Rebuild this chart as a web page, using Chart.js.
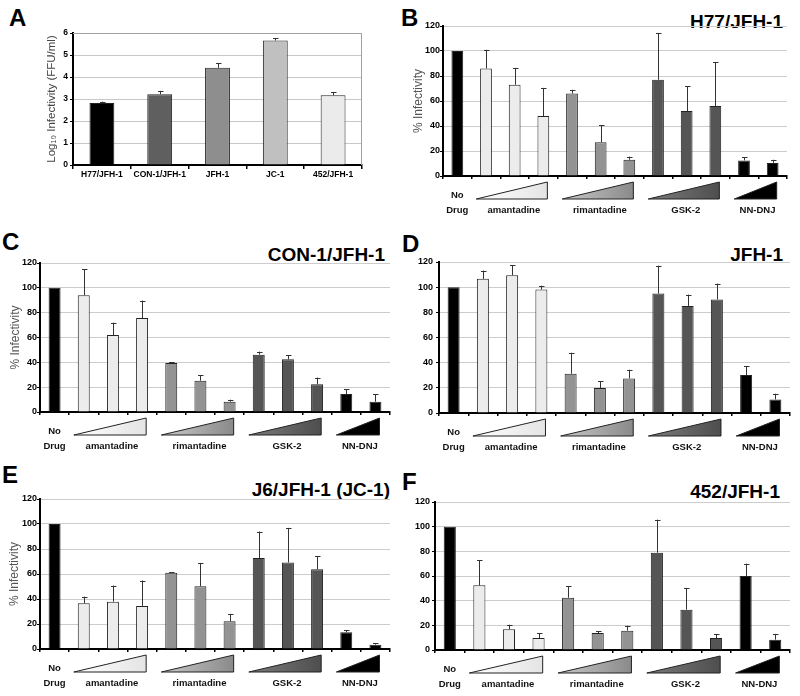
<!DOCTYPE html>
<html>
<head>
<meta charset="utf-8">
<script src="https://cdn.jsdelivr.net/npm/chart.js@4.4.1/dist/chart.umd.min.js"></script>
<style>
  body { margin: 0; background: #fff; width: 800px; height: 696px; position: relative; overflow: hidden;
         font-family: 'Liberation Sans', Arial, sans-serif; }
  .panel { position: absolute; }
  .letter { position: absolute; font-weight: bold; font-size: 24px; line-height: 1; }
  .strain { position: absolute; font-weight: bold; font-size: 19px; line-height: 1; text-align: right; width: 200px; }
</style>
</head>
<body>
<div class="letter" style="left:9px;top:6px">A</div>
<div class="letter" style="left:401px;top:6px">B</div>
<div class="letter" style="left:2px;top:230px">C</div>
<div class="letter" style="left:402px;top:232px">D</div>
<div class="letter" style="left:2px;top:463px">E</div>
<div class="letter" style="left:402px;top:470px">F</div>

<div class="strain" style="left:583px;top:12px">H77/JFH-1</div>
<div class="strain" style="left:185px;top:245px">CON-1/JFH-1</div>
<div class="strain" style="left:583px;top:245px">JFH-1</div>
<div class="strain" style="left:190px;top:480px">J6/JFH-1 (JC-1)</div>
<div class="strain" style="left:580px;top:482px">452/JFH-1</div>

<div class="panel" id="pA"><canvas id="cA"></canvas></div>
<div class="panel" id="pB"><canvas id="cB"></canvas></div>
<div class="panel" id="pC"><canvas id="cC"></canvas></div>
<div class="panel" id="pD"><canvas id="cD"></canvas></div>
<div class="panel" id="pE"><canvas id="cE"></canvas></div>
<div class="panel" id="pF"><canvas id="cF"></canvas></div>

<script>
// panel A: virus titres
const strainLabels = ['H77/JFH-1', 'CON-1/JFH-1', 'JFH-1', 'JC-1', '452/JFH-1'];
const strainLogTitre = [2.82, 3.22, 4.42, 5.66, 3.17];
const strainLogErr = [0.06, 0.15, 0.22, 0.1, 0.13];
const strainColors = ['#000000', '#5f5f5f', '#8e8e8e', '#c0c0c0', '#ebebeb'];
const logTicks = [0, 1, 2, 3, 4, 5, 6];

// panels B-F: drug treatments, 12 bars each
const doseLabels = ['No Drug',
  'amantadine low', 'amantadine mid', 'amantadine high',
  'rimantadine low', 'rimantadine mid', 'rimantadine high',
  'GSK-2 low', 'GSK-2 mid', 'GSK-2 high',
  'NN-DNJ low', 'NN-DNJ high'];
const doseGroup = [0, 1, 1, 1, 2, 2, 2, 3, 3, 3, 4, 4];
const drugNames = ['amantadine', 'rimantadine', 'GSK-2', 'NN-DNJ'];
const groupColors = ['#000000', '#ececec', '#939393', '#555555', '#000000'];
const percentTicks = [0, 20, 40, 60, 80, 100, 120];

const h77Values = [100, 86, 73, 48, 66, 27, 13, 77, 52, 56, 12.5, 10.5];
const h77Err    = [0, 15, 13.5, 22.5, 3, 13.5, 2.5, 37.5, 20, 35, 2.5, 2.5];
const con1Values = [100, 94, 62, 75.7, 39.5, 25.2, 8.3, 46.2, 42.4, 22.3, 14.5, 8.3];
const con1Err    = [0, 21, 10, 14, 0.5, 4.6, 1.6, 2.4, 3.2, 5.4, 3.8, 6.2];
const jfh1Values = [100, 106.6, 109.5, 98.1, 31.2, 19.8, 27.5, 94.9, 85.1, 90.2, 30.1, 10.8];
const jfh1Err    = [0, 6.6, 7.9, 3.1, 16.7, 5.3, 6.9, 22.2, 9, 12.7, 6.9, 4.5];
const jc1Values = [100, 36.6, 37.9, 34.5, 61, 50.2, 22.2, 72.8, 69.2, 63.9, 13.5, 3.5];
const jc1Err    = [0, 5.3, 12.9, 20.3, 0.3, 18.7, 5.9, 21.2, 27.7, 10.4, 1.6, 1.3];
const s452Values = [100, 52.4, 16.8, 9.7, 42.4, 13.8, 15.7, 78.9, 32.7, 9.7, 60, 8.4];
const s452Err    = [0, 20.6, 3.7, 4.1, 9.5, 1.3, 4, 26.8, 17.6, 3, 10, 4.6];

const fam = "'Liberation Sans', Arial, sans-serif";
Chart.defaults.font.family = fam;
Chart.defaults.color = '#000';

// error bars, read from dataset.errors
const errorBars = {
  id: 'errorBars',
  afterDatasetsDraw(chart) {
    const ds = chart.data.datasets[0];
    const meta = chart.getDatasetMeta(0);
    const y = chart.scales.y;
    const ctx = chart.ctx;
    ctx.save();
    ctx.strokeStyle = '#333';
    ctx.lineWidth = 1;
    meta.data.forEach((bar, i) => {
      const e = ds.errors[i];
      if (!e) return;
      const top = y.getPixelForValue(ds.data[i] + e);
      const x = Math.round(bar.x) + 0.5;
      ctx.beginPath();
      ctx.moveTo(x, bar.y);
      ctx.lineTo(x, top);
      ctx.moveTo(x - 2.5, Math.round(top) + 0.5);
      ctx.lineTo(x + 3, Math.round(top) + 0.5);
      ctx.stroke();
    });
    ctx.restore();
  }
};

// grey frame on top and right of panel A
const plotFrame = {
  id: 'plotFrame',
  beforeDatasetsDraw(chart) {
    const a = chart.chartArea, ctx = chart.ctx;
    ctx.save();
    ctx.strokeStyle = '#a0a0a0';
    ctx.lineWidth = 1;
    ctx.beginPath();
    ctx.moveTo(a.left, a.top + 0.5);
    ctx.lineTo(a.right - 0.5, a.top + 0.5);
    ctx.lineTo(a.right - 0.5, a.bottom);
    ctx.stroke();
    ctx.restore();
  }
};

// dose wedges and drug names under the x axis
const wedgeFills = [null, ['#ffffff', '#e4e4e4'], ['#c8c8c8', '#8a8a8a'], ['#7c7c7c', '#4e4e4e'], ['#000', '#000']];
const drugGroups = {
  id: 'drugGroups',
  afterDraw(chart) {
    const x = chart.scales.x, ctx = chart.ctx, base = chart.chartArea.bottom;
    const step = x.width / doseLabels.length;
    ctx.save();
    ctx.font = 'bold 9.5px ' + fam;
    ctx.fillStyle = '#111';
    ctx.textAlign = 'center';
    ctx.textBaseline = 'middle';
    const c0 = x.getPixelForValue(0);
    ctx.fillText('No', c0, base + 19.5);
    ctx.fillText('Drug', c0, base + 34);
    drugNames.forEach((name, g) => {
      const idx = doseGroup.map((d, i) => d === g + 1 ? i : -1).filter(i => i >= 0);
      const left = x.getPixelForValue(idx[0]) - step / 2 + 0.16 * step;
      const right = x.getPixelForValue(idx[idx.length - 1]) + step / 2 - 0.36 * step;
      const grad = ctx.createLinearGradient(left, 0, right, 0);
      grad.addColorStop(0, wedgeFills[g + 1][0]);
      grad.addColorStop(1, wedgeFills[g + 1][1]);
      ctx.beginPath();
      ctx.moveTo(left, base + 23);
      ctx.lineTo(right, base + 6);
      ctx.lineTo(right, base + 23);
      ctx.closePath();
      ctx.fillStyle = grad;
      ctx.fill();
      ctx.strokeStyle = '#222';
      ctx.lineWidth = 1;
      ctx.stroke();
      ctx.fillStyle = '#111';
      ctx.fillText(name, (left + right) / 2 + 2, base + 34);
    });
    ctx.restore();
  }
};

function place(id, box) {
  const p = document.getElementById('p' + id);
  const c = document.getElementById('c' + id);
  p.style.left = box[0] + 'px';
  p.style.top = box[1] + 'px';
  c.width = box[2];
  c.height = box[3];
  return c;
}

// panel A
(function () {
  const box = [0, 0, 400, 200], plot = [73, 33, 362, 165];
  const canvas = place('A', box);
  new Chart(canvas, {
    type: 'bar',
    data: {
      labels: strainLabels,
      datasets: [{
        data: strainLogTitre,
        errors: strainLogErr,
        backgroundColor: strainColors,
        borderColor: '#222',
        borderWidth: 1,
        categoryPercentage: 1,
        barPercentage: 0.43
      }]
    },
    options: {
      responsive: false,
      animation: false,
      layout: { padding: { left: 0, top: plot[1] - box[1], right: box[0] + box[2] - plot[2], bottom: 0 } },
      plugins: { legend: { display: false }, tooltip: { enabled: false } },
      scales: {
        x: {
          afterFit: s => { s.height = box[1] + box[3] - plot[3]; },
          grid: { drawOnChartArea: false, color: '#000', tickLength: 4, lineWidth: 1.5 },
          border: { color: '#000', width: 2 },
          ticks: { font: { size: 8.5, weight: 'bold' }, padding: 1, maxRotation: 0, autoSkip: false }
        },
        y: {
          min: 0, max: 6,
          afterFit: s => { s.width = plot[0] - box[0]; },
          afterBuildTicks: s => { s.ticks = logTicks.map(v => ({ value: v })); },
          grid: { color: '#c8c8c8', tickColor: '#000', tickLength: 3 },
          border: { color: '#000', width: 2 },
          ticks: { font: { size: 8.5, weight: 'bold' }, padding: 2 },
          title: { display: true, text: 'Log\u2081\u2080 Infectivity (FFU/ml)', color: '#444',
                   font: { size: 11.5 }, padding: { top: 45 } }
        }
      }
    },
    plugins: [plotFrame, errorBars]
  });
})();

function drugChart(id, box, plot, values, errors, showTitle, titleOffset, tickPad) {
  const canvas = place(id, box);
  new Chart(canvas, {
    type: 'bar',
    data: {
      labels: doseLabels,
      datasets: [{
        data: values,
        errors: errors,
        backgroundColor: doseGroup.map(g => groupColors[g]),
        borderColor: '#222',
        borderWidth: 1,
        categoryPercentage: 1,
        barPercentage: 0.41
      }]
    },
    options: {
      responsive: false,
      animation: false,
      layout: { padding: { left: 0, top: plot[1] - box[1], right: box[0] + box[2] - plot[2], bottom: 0 } },
      plugins: { legend: { display: false }, tooltip: { enabled: false } },
      scales: {
        x: {
          afterFit: s => { s.height = box[1] + box[3] - plot[3]; },
          grid: { drawOnChartArea: false, color: '#000', tickLength: 3, lineWidth: 1.5 },
          border: { color: '#000', width: 2 },
          ticks: { display: false }
        },
        y: {
          min: 0, max: 120,
          afterFit: s => { s.width = plot[0] - box[0]; },
          afterBuildTicks: s => { s.ticks = percentTicks.map(v => ({ value: v })); },
          grid: { color: '#cccccc', tickColor: '#000', tickLength: 3 },
          border: { color: '#000', width: 2 },
          ticks: { font: { size: 9, weight: 'bold' }, padding: tickPad },
          title: { display: showTitle, text: '% Infectivity', color: '#555',
                   font: { size: 12 }, padding: { top: titleOffset } }
        }
      }
    },
    plugins: [errorBars, drugGroups]
  });
}

drugChart('B', [400, 0, 400, 230], [443, 26, 787, 176], h77Values, h77Err, true, 11, 0);
drugChart('C', [0, 230, 400, 230], [40, 263, 390, 412], con1Values, con1Err, true, 8, 0);
drugChart('D', [400, 230, 400, 230], [439, 262, 790, 413], jfh1Values, jfh1Err, false, 8, 3);
drugChart('E', [0, 460, 400, 236], [40, 499, 390, 649], jc1Values, jc1Err, true, 7, 0);
drugChart('F', [400, 460, 400, 236], [435, 502, 790, 650], s452Values, s452Err, false, 8, 2);
</script>
</body>
</html>
